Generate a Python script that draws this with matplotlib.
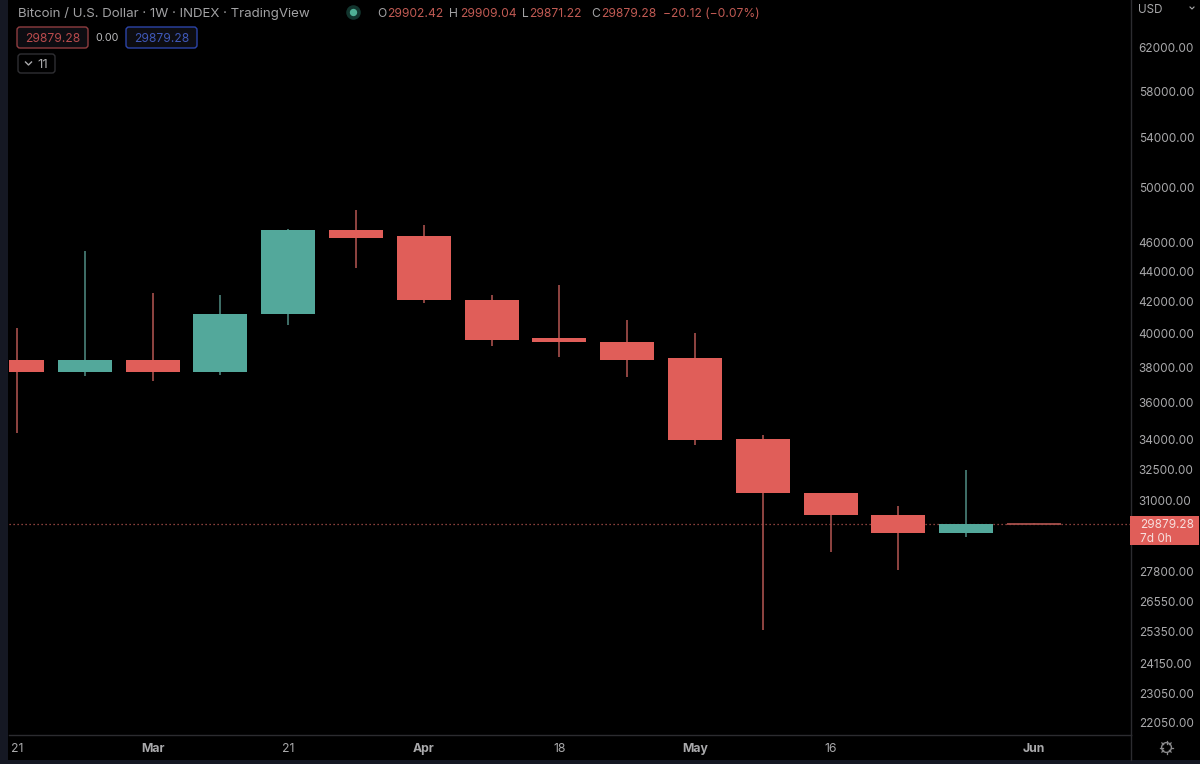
import matplotlib
matplotlib.use("Agg")
import matplotlib.pyplot as plt
from matplotlib.patches import Rectangle, FancyBboxPatch
from matplotlib.ticker import NullLocator
import numpy as np

plt.rcParams['font.family'] = ['Inter', 'DejaVu Sans']

opens  = [38391, 37690, 38447, 37747, 41252, 46847, 46419, 42147, 39705, 39463, 38510, 34065, 31317, 30281, 29456, 29902.42]
highs  = [40320, 45365, 42600, 42408, 46920, 48305, 47207, 42408, 43065, 40815, 40070, 34224, 31317, 30703, 32439, 29909.04]
lows   = [34330, 37463, 37176, 37573, 40505, 44199, 41893, 39221, 38570, 37405, 33708, 25388, 28610, 27873, 29279, 29871.22]
closes = [37690, 38447, 37747, 41252, 46847, 46345, 42147, 39643, 39463, 38447, 34013, 31317, 30281, 29456, 29879, 29879.28]

price_ticks = [62000, 58000, 54000, 50000, 46000, 44000, 42000, 40000, 38000, 36000,
               34000, 32500, 31000, 27800, 26550, 25350, 24150, 23050, 22050]
date_tick_pos = [0, 2, 4, 6, 8, 10, 12, 15]
date_tick_labels = ['21', 'Mar', '21', 'Apr', '18', 'May', '16', 'Jun']
bold_dates = {'Mar', 'Apr', 'May', 'Jun'}
last_price = 29879.28

RED, GREEN = '#e05e59', '#53a89b'
WICK_RED, WICK_GREEN = '#a8504c', '#4a827a'
TXT = '#a9a9ab'
W, H = 1200, 764

fig = plt.figure(figsize=(12, 7.64), dpi=100, facecolor='black')
ax = fig.add_axes([9/W, 1-735/H, (1131-9)/W, 735/H], facecolor='black')
ax.set_yscale('log')
ax.set_ylim(21633, 66677)
ax.set_xlim(-0.118, 16.43)

x = np.arange(len(opens))
o, h, l, c = map(np.array, (opens, highs, lows, closes))
up = c >= o
ax.vlines(x, l, h, colors=[WICK_GREEN if u else WICK_RED for u in up], linewidth=1.2, zorder=2)
ax.bar(x[:-1], np.abs(c-o)[:-1], bottom=np.minimum(o, c)[:-1], width=0.797,
       color=[GREEN if u else RED for u in up[:-1]], linewidth=0, zorder=3)
ax.hlines(c[-1], x[-1]-0.4, x[-1]+0.4, colors=WICK_RED, linewidth=1.3, zorder=3)
ax.axhline(last_price, color='#b5544f', linewidth=0.9, linestyle=(0, (1, 2.2)), zorder=1)

ax.yaxis.tick_right()
ax.set_yticks(price_ticks)
ax.set_yticklabels([f'{p:.2f}' for p in price_ticks])
ax.yaxis.set_minor_locator(NullLocator())
ax.tick_params(axis='y', length=0, pad=5.5, labelsize=8.5, labelcolor=TXT)
ax.set_xticks(date_tick_pos)
ax.set_xticklabels(date_tick_labels)
ax.tick_params(axis='x', length=0, pad=6, labelsize=8.8, labelcolor=TXT)
for t in ax.get_xticklabels():
    if t.get_text() in bold_dates:
        t.set_fontweight('bold')
for s in ('top', 'left'):
    ax.spines[s].set_visible(False)
for s in ('right', 'bottom'):
    ax.spines[s].set_color('#2c2c30')
    ax.spines[s].set_linewidth(1)

# overlay in pixel coordinates for the chrome
ov = fig.add_axes([0, 0, 1, 1], facecolor='none')
ov.set_xlim(0, W); ov.set_ylim(H, 0); ov.axis('off')
ov.add_patch(Rectangle((0, 0), 8, H, color='#151823', lw=0))
ov.add_patch(Rectangle((0, 760), W, 4, color='#151823', lw=0))
ov.plot([1131, 1131], [735, 760], color='#2c2c30', lw=1)

ov.text(18, 13, 'Bitcoin / U.S. Dollar · 1W · INDEX · TradingView', color='#a2a2a4', fontsize=9.55, va='center')
ov.scatter([353], [12], s=110, color='#12352e', lw=0)
ov.scatter([353], [12], s=28, color='#4fb095', lw=0)

parts = [(377, 'O', '#a2a2a4'), (387, '29902.42', '#c05a53'), (449, 'H', '#a2a2a4'), (460, '29909.04', '#c05a53'),
         (522, 'L', '#a2a2a4'), (529, '29871.22', '#c05a53'), (591, 'C', '#a2a2a4'), (601, '29879.28', '#c05a53'),
         (663, '−20.12 (−0.07%)', '#c05a53')]
for px, s, col in parts:
    ov.text(px, 14, s, color=col, fontsize=8.7, va='center')

def badge(x0, x1, y0, y1, ec, fc='#0d0d12'):
    ov.add_patch(FancyBboxPatch((x0+2, y0+2), x1-x0-4, y1-y0-4, boxstyle='round,pad=2,rounding_size=3',
                                ec=ec, fc=fc, lw=1))
badge(17, 88, 27, 48, '#8f3d40')
ov.text(52.5, 38.5, '29879.28', color='#b84a4c', fontsize=8.7, ha='center', va='center')
ov.text(107, 38, '0.00', color='#b9b9bb', fontsize=7.8, ha='center', va='center')
badge(126, 197, 27, 48, '#2c44a8')
ov.text(161.5, 38.5, '29879.28', color='#3f58b8', fontsize=8.7, ha='center', va='center')
badge(18, 55, 54, 73, '#2f2f33', '#000000')
ov.plot([25.5, 28.5, 31.5], [62, 65, 62], color='#a9a9ab', lw=1)
ov.text(37, 64.5, '11', color='#a9a9ab', fontsize=9.6, va='center')

ov.text(1138, 10, 'USD', color=TXT, fontsize=8.4, va='center')
ov.plot([1190, 1192, 1194], [7, 9, 7], color=TXT, lw=0.8)

ov.add_patch(Rectangle((1130, 516), 69, 29, color=RED, lw=0))
ov.text(1140, 525, '29879.28', color='#f7dedc', fontsize=8.5, va='center')
ov.text(1140, 538.5, '7d 0h', color='#f7dedc', fontsize=8.5, va='center')

# settings gear
gx, gy = 1166.5, 747.5
ov.scatter([gx], [gy], s=50, facecolor='none', edgecolor='#8a8a8c', lw=1)
for a in np.arange(0, 2*np.pi, np.pi/4):
    ov.plot([gx+4*np.cos(a), gx+6.5*np.cos(a)], [gy+4*np.sin(a), gy+6.5*np.sin(a)], color='#8a8a8c', lw=0.9)

fig.savefig('out.png', dpi=100, facecolor='black')
